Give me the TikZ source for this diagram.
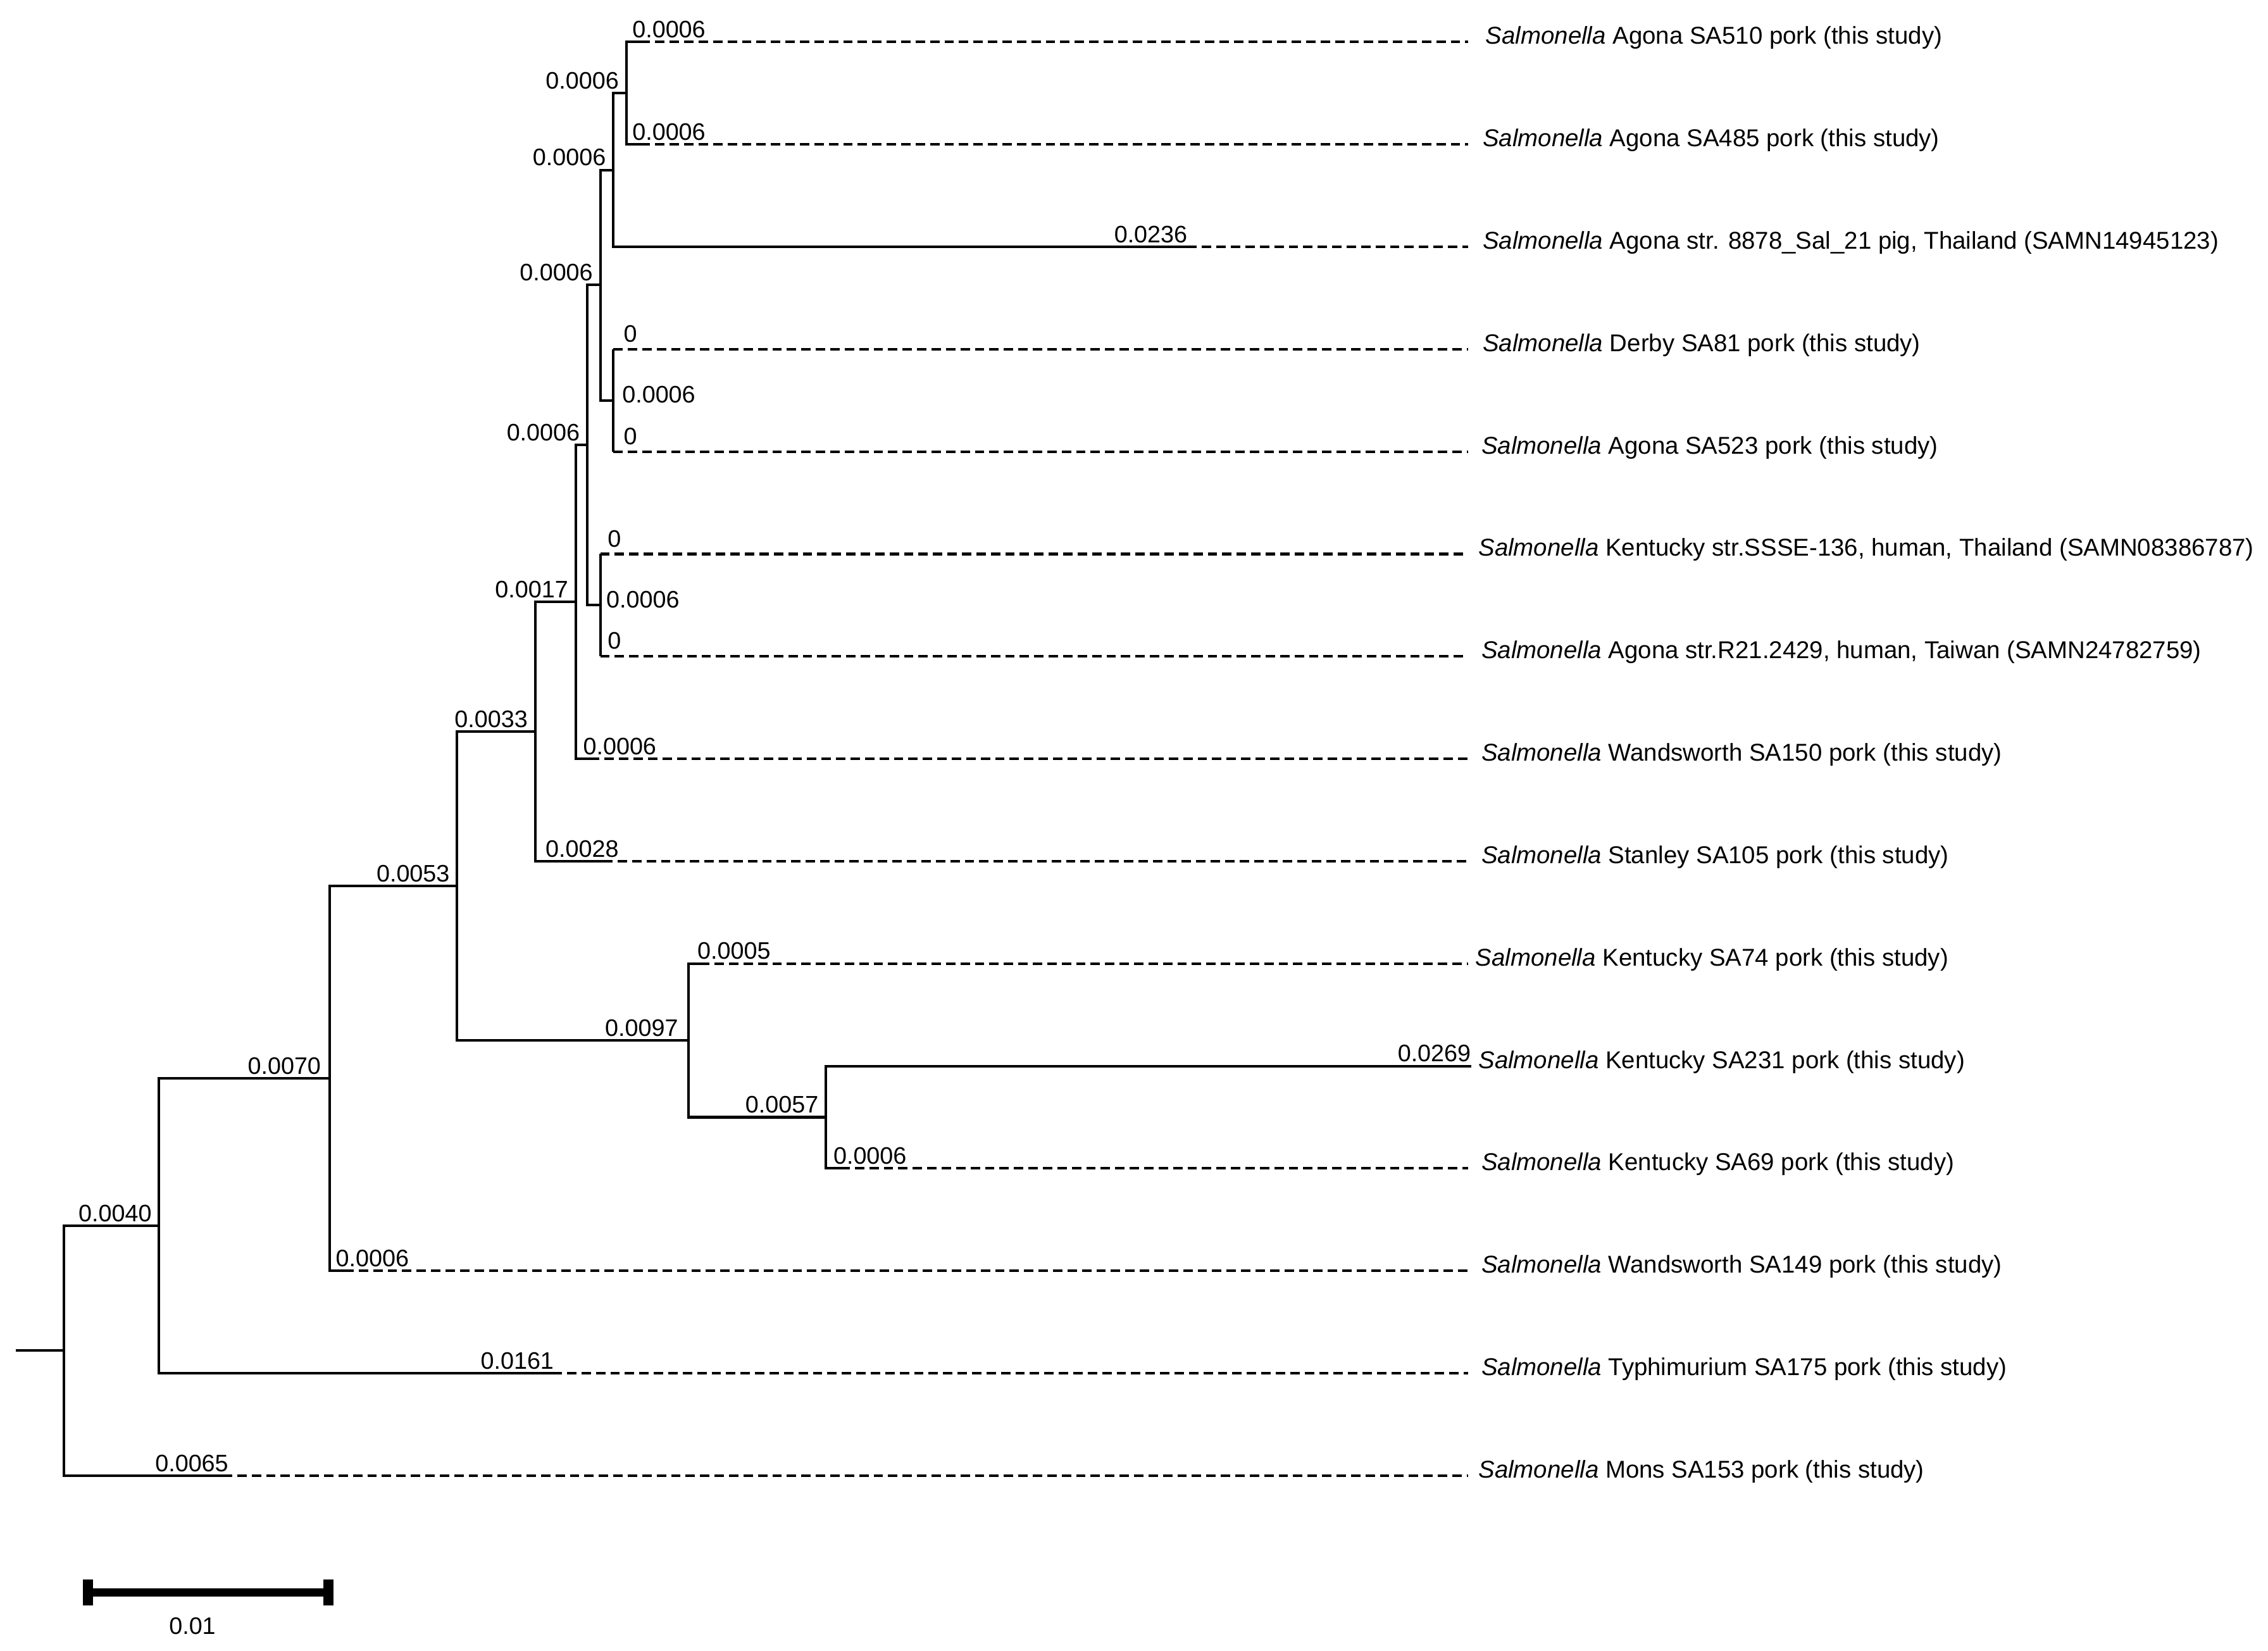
\documentclass[tikz,border=0pt]{standalone}
\usepackage{fontspec}
\setmainfont{Liberation Sans}
\begin{document}
\begin{tikzpicture}[x=1pt,y=-1pt,
  br/.style={line width=1.8pt},
  ext/.style={line width=1.8pt, dash pattern=on 6.5pt off 3.5pt},
  bl/.style={font=\fontsize{16.5}{18}\selectfont, inner sep=0pt},
  tx/.style={font=\fontsize{16.8}{19}\selectfont, inner sep=0pt, anchor=base west},
]
\useasboundingbox (0,0) rectangle (1568,1141);
% internal nodes
\coordinate (S)   at (11,933.7);
\coordinate (R)   at (44,933.7);
\coordinate (N9)  at (110,847.5);
\coordinate (N8)  at (228,745.5);
\coordinate (N7)  at (316,612.5);
\coordinate (N6)  at (370,505.7);
\coordinate (N5)  at (398,416.2);
\coordinate (N4)  at (406,307.7);
\coordinate (N3)  at (415,197);
\coordinate (N2)  at (424,117.5);
\coordinate (N1)  at (433,64.4);
\coordinate (Nd)  at (424,276.8);
\coordinate (Nk)  at (415,418.4);
\coordinate (Nk1) at (476,719.3);
\coordinate (Nk2) at (571,772.4);
% leaf tips
\coordinate (L1)  at (443,29);
\coordinate (L2)  at (443,99.8);
\coordinate (L3)  at (821,170.6);
\coordinate (L4)  at (424,241.4);
\coordinate (L5)  at (424,312.2);
\coordinate (L6)  at (415,383);
\coordinate (L7)  at (415,453.8);
\coordinate (L8)  at (408,524.6);
\coordinate (L9)  at (417,595.4);
\coordinate (L10) at (484,666.2);
\coordinate (L11) at (1017,737);
\coordinate (L12) at (581,807.8);
\coordinate (L13) at (238,878.6);
\coordinate (L14) at (382,949.4);
\coordinate (L15) at (154,1020.2);
% dash ends
\foreach \i/\y in {1/29,2/99.8,3/170.6,4/241.4,5/312.2,6/383,7/453.8,8/524.6,9/595.4,10/666.2,12/807.8,13/878.6,14/949.4,15/1020.2}
  \coordinate (E\i) at (1015,\y);
% tree edges
\draw[br] (S) -- (R);
\draw[br] (R) |- (N9);   \draw[br] (R) |- (L15);
\draw[br] (N9) |- (N8);  \draw[br] (N9) |- (L14);
\draw[br] (N8) |- (N7);  \draw[br] (N8) |- (L13);
\draw[br] (N7) |- (N6);  \draw[br] (N7) |- (Nk1);
\draw[br] (N6) |- (N5);  \draw[br] (N6) |- (L9);
\draw[br] (N5) |- (N4);  \draw[br] (N5) |- (L8);
\draw[br] (N4) |- (N3);  \draw[br] (N4) |- (Nk);
\draw[br] (N3) |- (N2);  \draw[br] (N3) |- (Nd);
\draw[br] (N2) |- (N1);  \draw[br] (N2) |- (L3);
\draw[br] (N1) |- (L1);  \draw[br] (N1) |- (L2);
\draw[br] (Nd) |- (L4);  \draw[br] (Nd) |- (L5);
\draw[br] (Nk) |- (L6);  \draw[br] (Nk) |- (L7);
\draw[br] (Nk1) |- (L10); \draw[br] (Nk1) |- (Nk2);
\draw[br] (Nk2) |- (L11); \draw[br] (Nk2) |- (L12);
% dashed extensions
\foreach \i in {1,2,3,4,5,6,7,8,9,10,12,13,14,15}
  \draw[ext] (L\i) -- (E\i);
% internal branch labels
\path (N9)  ++(-5,-3) node[bl,anchor=base east] (b9)  {0.0040};
\path (N8)  ++(-6,-3) node[bl,anchor=base east] (b8)  {0.0070};
\path (N7)  ++(-5,-3) node[bl,anchor=base east] (b7)  {0.0053};
\path (N6)  ++(-5,-3) node[bl,anchor=base east] (b6)  {0.0033};
\path (N5)  ++(-5,-3) node[bl,anchor=base east] (b5)  {0.0017};
\path (N4)  ++(-5,-3) node[bl,anchor=base east] (b4)  {0.0006};
\path (N3)  ++(-5,-3) node[bl,anchor=base east] (b3)  {0.0006};
\path (N2)  ++(-5,-3) node[bl,anchor=base east] (b2)  {0.0006};
\path (N1)  ++(-5,-3) node[bl,anchor=base east] (b1)  {0.0006};
\path (Nk1) ++(-7,-3) node[bl,anchor=base east] (bk1) {0.0097};
\path (Nk2) ++(-5,-3) node[bl,anchor=base east] (bk2) {0.0057};
\path (Nd)  ++(6,-4)  node[bl,anchor=west] (bd) {0.0006};
\path (Nk)  ++(4,-4)  node[bl,anchor=west] (bk) {0.0006};
% leaf branch labels
\path (L1)  ++(-6,-3) node[bl,anchor=base west] (l1) {0.0006};
\path (L2)  ++(-6,-3) node[bl,anchor=base west] (l2) {0.0006};
\path (L3)  ++(0,-3)  node[bl,anchor=base east] (l3) {0.0236};
\path (L4)  ++(7,-5)  node[bl,anchor=base west] (l4) {0};
\path (L5)  ++(7,-5)  node[bl,anchor=base west] (l5) {0};
\path (L6)  ++(5,-5)  node[bl,anchor=base west] (l6) {0};
\path (L7)  ++(5,-5)  node[bl,anchor=base west] (l7) {0};
\path (L8)  ++(-5,-3) node[bl,anchor=base west] (l8) {0.0006};
\path (L9)  ++(-40,-3) node[bl,anchor=base west] (l9) {0.0028};
\path (L10) ++(-2,-3) node[bl,anchor=base west] (l10) {0.0005};
\path (L11) ++(0,-3)  node[bl,anchor=base east] (l11) {0.0269};
\path (L12) ++(-5,-3) node[bl,anchor=base west] (l12) {0.0006};
\path (L13) ++(-6,-3) node[bl,anchor=base west] (l13) {0.0006};
\path (L14) ++(1,-3)  node[bl,anchor=base east] (l14) {0.0161};
\path (L15) ++(4,-3)  node[bl,anchor=base east] (l15) {0.0065};
% taxon labels
\node[tx] (t1)  at (1027,30.5)   {\textit{Salmonella} Agona SA510 pork (this study)};
\node[tx] (t2)  at (1025,101.3)  {\textit{Salmonella} Agona SA485 pork (this study)};
\node[tx] (t3)  at (1025,172.1)  {\textit{Salmonella} Agona str. 8878\_Sal\_21 pig, Thailand (SAMN14945123)};
\node[tx] (t4)  at (1025,242.9)  {\textit{Salmonella} Derby SA81 pork (this study)};
\node[tx] (t5)  at (1024,313.7)  {\textit{Salmonella} Agona SA523 pork (this study)};
\node[tx] (t6)  at (1022,384.5)  {\textit{Salmonella} Kentucky str.SSSE-136, human, Thailand (SAMN08386787)};
\node[tx] (t7)  at (1024,455.3)  {\textit{Salmonella} Agona str.R21.2429, human, Taiwan (SAMN24782759)};
\node[tx] (t8)  at (1024,526.1)  {\textit{Salmonella} Wandsworth SA150 pork (this study)};
\node[tx] (t9)  at (1024,596.9)  {\textit{Salmonella} Stanley SA105 pork (this study)};
\node[tx] (t10) at (1020,667.7)  {\textit{Salmonella} Kentucky SA74 pork (this study)};
\node[tx] (t11) at (1022,738.5)  {\textit{Salmonella} Kentucky SA231 pork (this study)};
\node[tx] (t12) at (1024,809.3)  {\textit{Salmonella} Kentucky SA69 pork (this study)};
\node[tx] (t13) at (1024,880.1)  {\textit{Salmonella} Wandsworth SA149 pork (this study)};
\node[tx] (t14) at (1024,950.9)  {\textit{Salmonella} Typhimurium SA175 pork (this study)};
\node[tx] (t15) at (1022,1021.7) {\textit{Salmonella} Mons SA153 pork (this study)};
% scale bar
\coordinate (sbL) at (61,1101);
\coordinate (sbR) at (227,1101);
\draw[line width=6pt] (sbL) -- (sbR);
\draw[line width=7pt] ([yshift=8.8pt]sbL) -- ([yshift=-8.8pt]sbL);
\draw[line width=7pt] ([yshift=8.8pt]sbR) -- ([yshift=-8.8pt]sbR);
\node[bl,anchor=center] (sl) at (133,1124) {0.01};
\end{tikzpicture}
\end{document}
